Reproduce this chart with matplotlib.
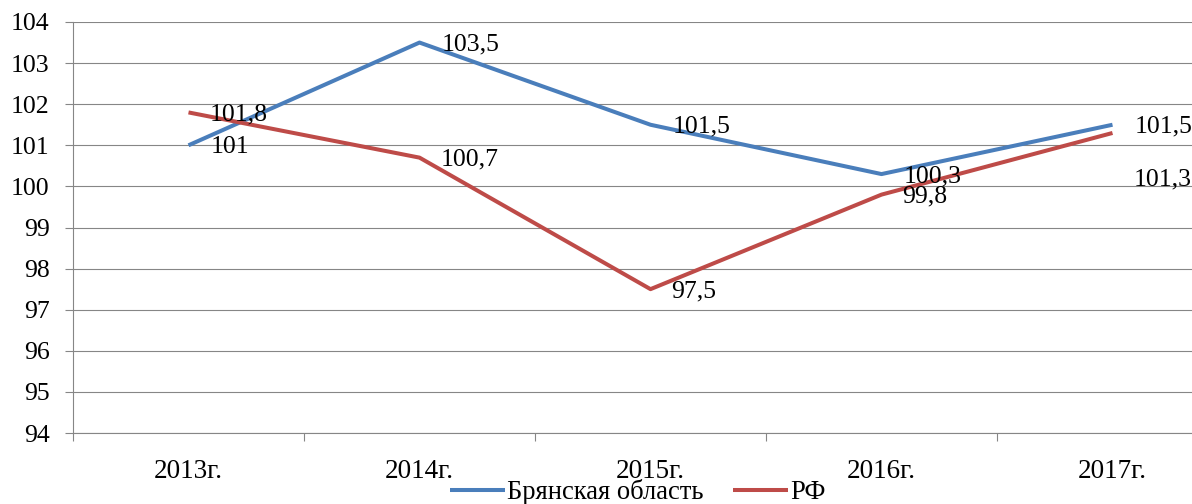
import matplotlib.pyplot as plt

# Data
years = ['2013г.', '2014г.', '2015г.', '2016г.', '2017г.']
bryansk = [101, 103.5, 101.5, 100.3, 101.5]
rf = [101.8, 100.7, 97.5, 99.8, 101.3]
y_ticks = list(range(94, 105))

plt.rcParams['font.family'] = ['Liberation Serif', 'DejaVu Serif']
fs = 18.5
grey = '#868686'

fig = plt.figure(figsize=(11.92, 5.04), dpi=100)
# the plot area runs a bit past the right edge of the figure
ax = fig.add_axes([73 / 1192, 71 / 504, 1155 / 1192, 411 / 504])

x = list(range(len(years)))
ax.plot(x, bryansk, color='#4A7EBB', lw=2.9, label='Брянская область', solid_capstyle='butt')
ax.plot(x, rf, color='#BE4B48', lw=2.9, label='РФ', solid_capstyle='butt')

# value labels to the right of the points (comma as decimal separator)
def fmt(v):
    return ('%g' % v).replace('.', ',')

for i, v in enumerate(bryansk):
    ax.annotate(fmt(v), (i, v), xytext=(22, -2), textcoords='offset pixels',
                ha='left', va='center', fontsize=fs)
for i, v in enumerate(rf):
    dy = -46 if i == len(rf) - 1 else -2
    ax.annotate(fmt(v), (i, v), xytext=(21, dy), textcoords='offset pixels',
                ha='left', va='center', fontsize=fs)

ax.set_xlim(-0.5, 4.5)
ax.set_ylim(94, 104)
ax.set_yticks(y_ticks)
ax.yaxis.grid(True, color=grey, lw=0.8)
ax.set_axisbelow(True)

# tick marks between categories, labels at category centres
ax.set_xticks([i - 0.5 for i in range(len(years) + 1)])
ax.set_xticklabels([])
ax.set_xticks(x, minor=True)
ax.set_xticklabels(years, minor=True)
ax.tick_params(axis='x', which='major', length=6, color=grey, width=0.8, direction='out')
ax.tick_params(axis='x', which='minor', length=0, pad=19, labelsize=19.5)
ax.tick_params(axis='y', length=6, color=grey, width=0.8, pad=11, labelsize=fs)

for s in ['top', 'right']:
    ax.spines[s].set_visible(False)
for s in ['left', 'bottom']:
    ax.spines[s].set_color(grey)
    ax.spines[s].set_linewidth(0.8)

fig.legend(loc='center', bbox_to_anchor=(638 / 1192, 12 / 504), ncol=2, frameon=False,
           fontsize=19.2, handlelength=2.05, handletextpad=0.1, columnspacing=1.1,
           borderpad=0)

fig.savefig('out.png', dpi=100)
